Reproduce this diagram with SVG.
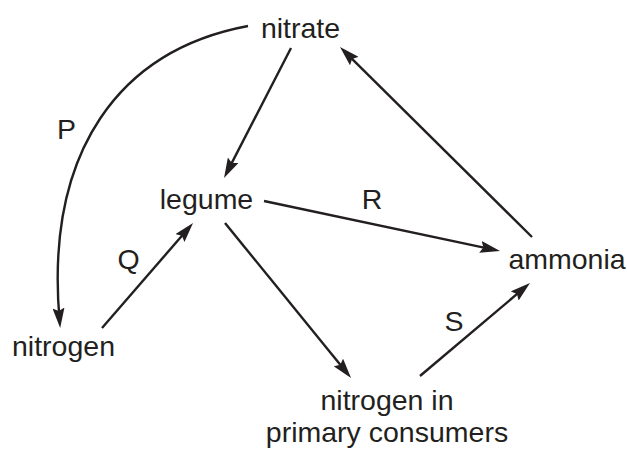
<svg xmlns="http://www.w3.org/2000/svg" width="627" height="450" viewBox="0 0 627 450">
<style>
text{font-family:"Liberation Sans",Arial,sans-serif;font-size:28.5px;fill:#231f20;text-anchor:middle}
.c{fill:none;stroke:#231f20;stroke-width:2.4;marker-end:url(#ah)}
</style>
<defs>
<marker id="ah" viewBox="0 0 20 12" refX="12" refY="6" markerWidth="20" markerHeight="12" markerUnits="userSpaceOnUse" orient="auto">
<path d="M0,0 L20,6 L0,12 L3,6 z" fill="#231f20"/>
</marker>
</defs>
<rect width="627" height="450" fill="#fff"/>
<g id="connectors">
<path class="c" d="M248,26 C120,50 45,150 59.5,320"/>
<path class="c" d="M291,48 L227.7,170.9"/>
<path class="c" d="M532,237 L345.7,52.6"/>
<path class="c" d="M264,201 L492.2,249.3"/>
<path class="c" d="M102,328 L187.8,229"/>
<path class="c" d="M225,223 L346,371.8"/>
<path class="c" d="M420,376 L523.9,288.2"/>
</g>
<g id="labels">
<text x="66.5" y="139">P</text>
<text x="128.5" y="269">Q</text>
<text x="372" y="209">R</text>
<text x="454" y="331">S</text>
</g>
<g id="nitrate"><text x="300.5" y="38">nitrate</text></g>
<g id="legume"><text x="206.5" y="209">legume</text></g>
<g id="ammonia"><text x="567" y="269">ammonia</text></g>
<g id="nitrogen"><text x="63.5" y="356">nitrogen</text></g>
<g id="consumers"><text x="387" y="410">nitrogen in</text><text x="387" y="442">primary consumers</text></g>
</svg>
